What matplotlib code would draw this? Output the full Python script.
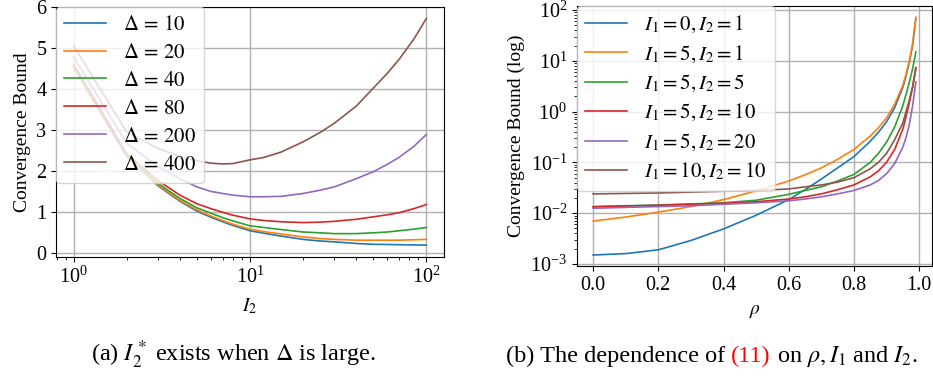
import numpy as np
import matplotlib
matplotlib.use("Agg")
import matplotlib.pyplot as plt

plt.rcParams["font.family"] = ["Liberation Serif", "DejaVu Serif"]
plt.rcParams["mathtext.fontset"] = "stix"
plt.rcParams["font.size"] = 14.5

# (a) bound vs I2 for several Delta
i2 = [1, 2, 3, 4, 5, 6, 7, 8, 10, 12, 15, 20, 25, 30, 40, 50, 60, 70, 85, 100]
deltas = [10, 20, 40, 80, 200, 400]
bound_d10 = [4.52, 2.35, 1.64, 1.26, 1.02, 0.87, 0.76, 0.67, 0.54, 0.48, 0.41, 0.33, 0.29, 0.27,
             0.23, 0.21, 0.205, 0.20, 0.195, 0.19]
bound_d20 = [4.55, 2.36, 1.66, 1.28, 1.05, 0.90, 0.79, 0.70, 0.58, 0.52, 0.46, 0.39, 0.35, 0.33,
             0.31, 0.31, 0.31, 0.31, 0.32, 0.33]
bound_d40 = [4.58, 2.38, 1.70, 1.33, 1.10, 0.97, 0.86, 0.78, 0.66, 0.62, 0.57, 0.51, 0.49, 0.47,
             0.47, 0.49, 0.51, 0.54, 0.58, 0.62]
bound_d80 = [4.60, 2.42, 1.77, 1.41, 1.20, 1.08, 0.99, 0.92, 0.83, 0.79, 0.76, 0.74, 0.75, 0.77,
             0.82, 0.88, 0.93, 0.98, 1.08, 1.18]
bound_d200 = [4.78, 2.67, 2.11, 1.81, 1.61, 1.50, 1.45, 1.41, 1.37, 1.37, 1.38, 1.45, 1.53, 1.61,
              1.81, 1.98, 2.16, 2.33, 2.60, 2.89]
bound_d400 = [5.05, 2.95, 2.55, 2.36, 2.25, 2.19, 2.17, 2.18, 2.27, 2.33, 2.46, 2.71, 2.94, 3.16,
              3.58, 4.02, 4.38, 4.72, 5.22, 5.72]
bounds_a = [bound_d10, bound_d20, bound_d40, bound_d80, bound_d200, bound_d400]

# (b) bound vs rho for several (I1, I2)
rho = [0.0, 0.1, 0.2, 0.3, 0.4, 0.5, 0.6, 0.65, 0.7, 0.75, 0.8, 0.85, 0.875, 0.9, 0.925,
       0.95, 0.96, 0.97, 0.98, 0.99]
labels_b = [r"$I_1=0, I_2=1$", r"$I_1=5, I_2=1$", r"$I_1=5, I_2=5$",
            r"$I_1=5, I_2=10$", r"$I_1=5, I_2=20$", r"$I_1=10, I_2=10$"]
b_0_1 = [1.5e-3, 1.6e-3, 1.9e-3, 2.9e-3, 4.9e-3, 9.1e-3, 0.0185, 0.029, 0.047, 0.078, 0.13,
         0.26, 0.39, 0.63, 1.2, 3.0, 5.1, 9.4, 20, 68]
b_5_1 = [7.0e-3, 8.4e-3, 1.05e-2, 0.0135, 0.0185, 0.0275, 0.043, 0.057, 0.078, 0.115, 0.18,
         0.33, 0.48, 0.75, 1.4, 3.3, 5.5, 10, 22, 72]
b_5_5 = [0.0135, 0.014, 0.0145, 0.0152, 0.016, 0.018, 0.0235, 0.028, 0.033, 0.043, 0.058,
         0.10, 0.15, 0.25, 0.5, 1.3, 2.2, 3.8, 7.0, 15]
b_5_10 = [0.0133, 0.0138, 0.0143, 0.015, 0.0157, 0.0168, 0.019, 0.021, 0.024, 0.029, 0.036,
          0.052, 0.068, 0.10, 0.18, 0.45, 0.8, 1.5, 3.0, 7.2]
b_5_20 = [0.0125, 0.013, 0.0135, 0.014, 0.015, 0.016, 0.0175, 0.019, 0.021, 0.024, 0.028,
          0.036, 0.044, 0.06, 0.095, 0.2, 0.31, 0.56, 1.3, 3.85]
b_10_10 = [0.024, 0.0245, 0.025, 0.026, 0.027, 0.028, 0.030, 0.033, 0.036, 0.041, 0.050,
           0.075, 0.10, 0.15, 0.28, 0.6, 1.0, 1.7, 3.1, 7.4]
bounds_b = [b_0_1, b_5_1, b_5_5, b_5_10, b_5_20, b_10_10]

W, H = 933, 381
fig = plt.figure(figsize=(W / 100, H / 100), dpi=100)
ax1 = fig.add_axes([56 / W, 1 - 257 / H, (444 - 56) / W, (257 - 7) / H])
ax2 = fig.add_axes([577 / W, 1 - 266 / H, (932 - 577) / W, (266 - 6) / H])

for d, b in zip(deltas, bounds_a):
    ax1.plot(i2, b, lw=1.2, label=r"$\Delta\,=\,%d$" % d)
ax1.set_xscale("log")
ax1.set_ylim(-0.1, 6)
ax1.set_yticks(range(0, 7))
ax1.set_xlabel(r"$I_2$", fontsize=14, labelpad=6)
ax1.set_ylabel("Convergence Bound", fontsize=14)
ax1.grid(True, color="#b0b0b0", lw=1)
ax1.legend(loc="upper left", borderaxespad=0, fontsize=15, labelspacing=0.4)

for lab, b in zip(labels_b, bounds_b):
    ax2.plot(rho, b, lw=1.2, label=lab)
ax2.set_yscale("log")
ax2.set_ylim(10 ** -3.04, 10 ** 2.08)
ax2.set_xticks(np.arange(0, 1.01, 0.2))
ax2.set_xlabel(r"$\rho$", fontsize=14, labelpad=6)
ax2.set_ylabel("Convergence Bound (log)", fontsize=14)
ax2.grid(True, color="#b0b0b0", lw=1)
ax2.legend(loc="upper left", borderaxespad=0, fontsize=15, labelspacing=0.4)

# captions
cap_y = 1 - 362 / H
fig.text(233 / W, cap_y, r"(a) $I_2^*$ exists when $\Delta$ is large.",
         ha="center", va="baseline", fontsize=17.5)
parts = [("(b) The dependence of", "black"), ("(11)", "red"), (r"on $\rho, I_1$ and $I_2$.", "black")]
r = fig.canvas.get_renderer()
texts = []
x = 0
for s, c in parts:
    t = fig.text(x / W, cap_y, s, color=c, va="baseline", fontsize=17.5)
    bb = t.get_window_extent(r)
    texts.append(t)
    x = bb.x1 + 6
shift = 712 - (x - 6) / 2
for t in texts:
    px, py = t.get_position()
    t.set_position((px + shift / W, py))

fig.savefig("out.png", dpi=100)
